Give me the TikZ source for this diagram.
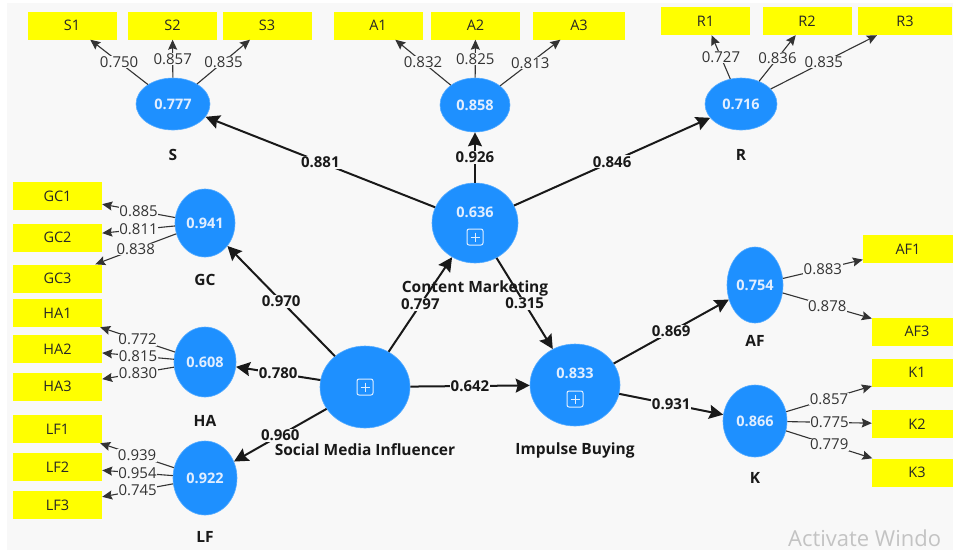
\documentclass[tikz,border=0pt]{standalone}
\usepackage{fontspec}
\setmainfont{Open Sans}
\usetikzlibrary{shapes.geometric,arrows.meta}

\definecolor{plsblue}{RGB}{30,144,255}
\definecolor{plsyellow}{RGB}{255,255,0}
\definecolor{plsbg}{RGB}{248,248,248}
\definecolor{valtext}{RGB}{225,238,255}
\definecolor{wmgray}{RGB}{195,195,195}

\tikzset{
  latent/.style={ellipse, fill=plsblue, draw=plsblue!75!white, line width=0.6pt, inner sep=0pt,
    text=valtext, font=\fontsize{14.5}{17}\selectfont\bfseries},
  indicator/.style={rectangle, fill=plsyellow, minimum width=89pt, minimum height=28pt, inner sep=0pt,
    text=black!85, font=\fontsize{14.5}{17}\selectfont},
  lvname/.style={text=black!90, font=\fontsize{15.5}{18}\selectfont\bfseries},
  structpath/.style={draw=black!90, line width=2pt, ->, >={Stealth[length=14pt,width=14pt,inset=2pt]}},
  loadpath/.style={draw=black!80, line width=1.1pt, ->, >={Stealth[length=10pt,width=9pt,inset=1.5pt]}},
  pathlbl/.style={fill=plsbg, inner sep=1pt, text=black!90, font=\fontsize{15}{18}\selectfont\bfseries},
  loadlbl/.style={fill=plsbg, inner sep=0.5pt, text=black!80, font=\fontsize{15}{18}\selectfont},
  plusbox/.style={draw=valtext, line width=1pt, rounded corners=2pt, minimum size=16pt, inner sep=0pt,
    path picture={\draw[valtext, line width=1pt]
      ([yshift=-3.5pt]path picture bounding box.north) -- ([yshift=3.5pt]path picture bounding box.south)
      ([xshift=3.5pt]path picture bounding box.west) -- ([xshift=-3.5pt]path picture bounding box.east);}}
}

\begin{document}
\begin{tikzpicture}[x=1pt, y=-1pt]
  \useasboundingbox (0,0) rectangle (953,550);
  \fill[plsbg] (7,3) rectangle (953,550); % canvas

  % indicators
  \node[indicator] (s1) at (72,25.5) {S1};
  \node[indicator] (s2) at (172.5,25.5) {S2};
  \node[indicator] (s3) at (267,25.5) {S3};
  \node[indicator] (a1) at (378,25.5) {A1};
  \node[indicator] (a2) at (475.5,25.5) {A2};
  \node[indicator, minimum width=92pt] (a3) at (579,25.5) {A3};
  \node[indicator] (r1) at (705.5,21) {R1};
  \node[indicator] (r2) at (807,21) {R2};
  \node[indicator, minimum width=94pt] (r3) at (905,21) {R3};
  \node[indicator] (gc1) at (57.5,196) {GC1};
  \node[indicator] (gc2) at (57.5,237.5) {GC2};
  \node[indicator] (gc3) at (57.5,278.5) {GC3};
  \node[indicator] (ha1) at (57.5,313) {HA1};
  \node[indicator] (ha2) at (57.5,349) {HA2};
  \node[indicator] (ha3) at (57.5,386.5) {HA3};
  \node[indicator] (lf1) at (57.5,429) {LF1};
  \node[indicator] (lf2) at (57.5,467) {LF2};
  \node[indicator] (lf3) at (57.5,505) {LF3};
  \node[indicator, minimum width=90pt] (af1) at (908,249) {AF1};
  \node[indicator, minimum width=90pt] (af3) at (917,331.5) {AF3};
  \node[indicator, minimum width=90pt] (k1) at (917,372.5) {K1};
  \node[indicator, minimum width=90pt] (k2) at (917,424) {K2};
  \node[indicator, minimum width=90pt] (k3) at (917,472.5) {K3};

  % latent variables
  \node[latent, minimum width=74pt, minimum height=52pt] (s) at (173,104) {0.777};
  \node[latent, minimum width=70pt, minimum height=54pt] (a) at (475,105) {0.858};
  \node[latent, minimum width=72pt, minimum height=52pt] (r) at (741,104) {0.716};
  \node[latent, minimum width=86pt, minimum height=80pt] (cm) at (475,223) {};
  \node[latent, minimum width=60pt, minimum height=68pt] (gc) at (205,223) {0.941};
  \node[latent, minimum width=62pt, minimum height=70pt] (ha) at (205,362) {0.608};
  \node[latent, minimum width=64pt, minimum height=74pt] (lf) at (205,478) {0.922};
  \node[latent, minimum width=90pt, minimum height=82pt] (smi) at (365,387) {};
  \node[latent, minimum width=90pt, minimum height=82pt] (ib) at (575,385) {};
  \node[latent, minimum width=56pt, minimum height=76pt] (af) at (755,285) {0.754};
  \node[latent, minimum width=64pt, minimum height=72pt] (k) at (755,421) {0.866};

  \node[text=valtext, font=\fontsize{14.5}{17}\selectfont\bfseries] (cmval) at (475,212) {0.636};
  \node[plusbox] (cmplus) at (475,237) {};
  \node[plusbox] (smiplus) at (365,387) {};
  \node[text=valtext, font=\fontsize{14.5}{17}\selectfont\bfseries] (ibval) at (575,373) {0.833};
  \node[plusbox] (ibplus) at (575,399) {};

  % outer model
  \draw[loadpath] (s) -- node[loadlbl] {0.750} (s1);
  \draw[loadpath] (s) -- node[loadlbl] {0.857} (s2);
  \draw[loadpath] (s) -- node[loadlbl] {0.835} (s3);
  \draw[loadpath] (a) -- node[loadlbl] {0.832} (a1);
  \draw[loadpath] (a) -- node[loadlbl] {0.825} (a2);
  \draw[loadpath] (a) -- node[loadlbl] {0.813} (a3);
  \draw[loadpath] (r) -- node[loadlbl] {0.727} (r1);
  \draw[loadpath] (r) -- node[loadlbl] {0.836} (r2);
  \draw[loadpath] (r) -- node[loadlbl] {0.835} (r3);
  \draw[loadpath] (gc) -- node[loadlbl] {0.885} (gc1);
  \draw[loadpath] (gc) -- node[loadlbl] {0.811} (gc2);
  \draw[loadpath] (gc) -- node[loadlbl] {0.838} (gc3);
  \draw[loadpath] (ha) -- node[loadlbl] {0.772} (ha1);
  \draw[loadpath] (ha) -- node[loadlbl] {0.815} (ha2);
  \draw[loadpath] (ha) -- node[loadlbl] {0.830} (ha3);
  \draw[loadpath] (lf) -- node[loadlbl] {0.939} (lf1);
  \draw[loadpath] (lf) -- node[loadlbl] {0.954} (lf2);
  \draw[loadpath] (lf) -- node[loadlbl] {0.745} (lf3);
  \draw[loadpath] (af) -- node[loadlbl] {0.883} (af1);
  \draw[loadpath] (af) -- node[loadlbl] {0.878} (af3);
  \draw[loadpath] (k) -- node[loadlbl] {0.857} (k1);
  \draw[loadpath] (k) -- node[loadlbl] {0.775} (k2);
  \draw[loadpath] (k) -- node[loadlbl] {0.779} (k3);

  % inner model
  \draw[structpath] (cm) -- node[pathlbl] {0.881} (s);
  \draw[structpath] (cm) -- node[pathlbl] {0.926} (a);
  \draw[structpath] (cm) -- node[pathlbl] {0.846} (r);
  \draw[structpath] (smi) -- node[pathlbl] {0.970} (gc);
  \draw[structpath] (smi) -- node[pathlbl] {0.780} (ha);
  \draw[structpath] (smi) -- node[pathlbl] {0.960} (lf);
  \draw[structpath] (smi) -- node[pathlbl] {0.797} (cm);
  \draw[structpath] (cm) -- node[pathlbl] {0.315} (ib);
  \draw[structpath] (smi) -- node[pathlbl] {0.642} (ib);
  \draw[structpath] (ib) -- node[pathlbl] {0.869} (af);
  \draw[structpath] (ib) -- node[pathlbl] {0.931} (k);

  % names
  \node[lvname] (sname) at (173,155) {S};
  \node[lvname] (rname) at (741,155) {R};
  \node[lvname] (cmname) at (475,288) {Content Marketing};
  \node[lvname] (gcname) at (205,280) {GC};
  \node[lvname] (haname) at (205,421) {HA};
  \node[lvname] (lfname) at (205,537) {LF};
  \node[lvname] (sminame) at (365,450) {Social Media Influencer};
  \node[lvname] (ibname) at (575,450) {Impulse Buying};
  \node[lvname] (afname) at (755,341) {AF};
  \node[lvname] (kname) at (755,478) {K};

  \node[anchor=base west, inner sep=0pt, text=wmgray, font=\fontsize{22}{26}\selectfont] (wmark) at (788,546) {Activate Windo};
\end{tikzpicture}
\end{document}
